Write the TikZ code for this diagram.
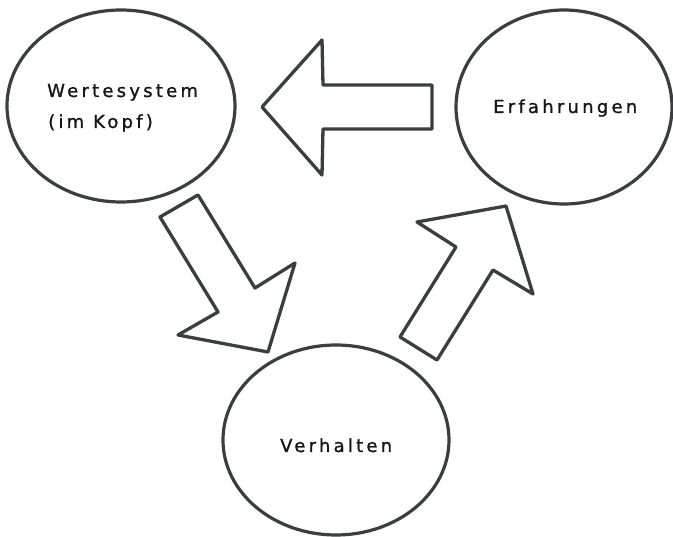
\documentclass[tikz,border=0pt]{standalone}
\usepackage{fontspec}
\setmainfont{DejaVu Sans}
\newfontfamily\handfont[LetterSpace=18, FakeBold=1.2]{DejaVu Sans}
\usetikzlibrary{shapes.geometric}
\definecolor{ink}{HTML}{3B3E41}
\definecolor{txt}{HTML}{161616}
\tikzset{
  bubble/.style={ellipse, draw=ink, line width=3.2pt, inner sep=0pt},
  blockarrow/.style={draw=ink, line width=3.3pt, line join=round, fill=white},
  caption/.style={text=txt, font=\handfont\fontsize{18}{30}\selectfont, inner sep=0pt, anchor=base west}
}
\begin{document}
\begin{tikzpicture}[x=1pt, y=-1pt]
  \useasboundingbox (0,0) rectangle (673,537);
  \fill[white] (0,0) rectangle (673,537);

  % the three circles of the cycle
  \node[bubble, minimum width=228pt, minimum height=192pt] (ws)   at (121,106) {};
  \node[bubble, minimum width=216pt, minimum height=194pt] (erf)  at (564,107) {};
  \node[bubble, minimum width=226pt, minimum height=190pt] (verh) at (336,440) {};

  % labels
  \node[caption] (wsA)  at (47,97)   {Wertesystem};
  \node[caption] (wsB)  at (48,128)  {(im Kopf)};
  \node[caption] (erfT) at (493,113) {Erfahrungen};
  \node[caption] (verT) at (280,452) {Verhalten};

  % Erfahrungen -> Wertesystem
  \draw[blockarrow] (262,107) -- (322,40) -- (323,85) -- (432,85) -- (432,129)
        -- (323,129) -- (322,175) -- cycle;
  % Wertesystem -> Verhalten
  \draw[blockarrow] (160,217) -- (198,195) -- (255,288) -- (295,263) -- (268,352)
        -- (178,335) -- (218,312) -- cycle;
  % Verhalten -> Erfahrungen
  \draw[blockarrow] (400,337) -- (456,247) -- (417,222) -- (506,206) -- (533,294)
        -- (493,270) -- (437,360) -- cycle;
\end{tikzpicture}
\end{document}
